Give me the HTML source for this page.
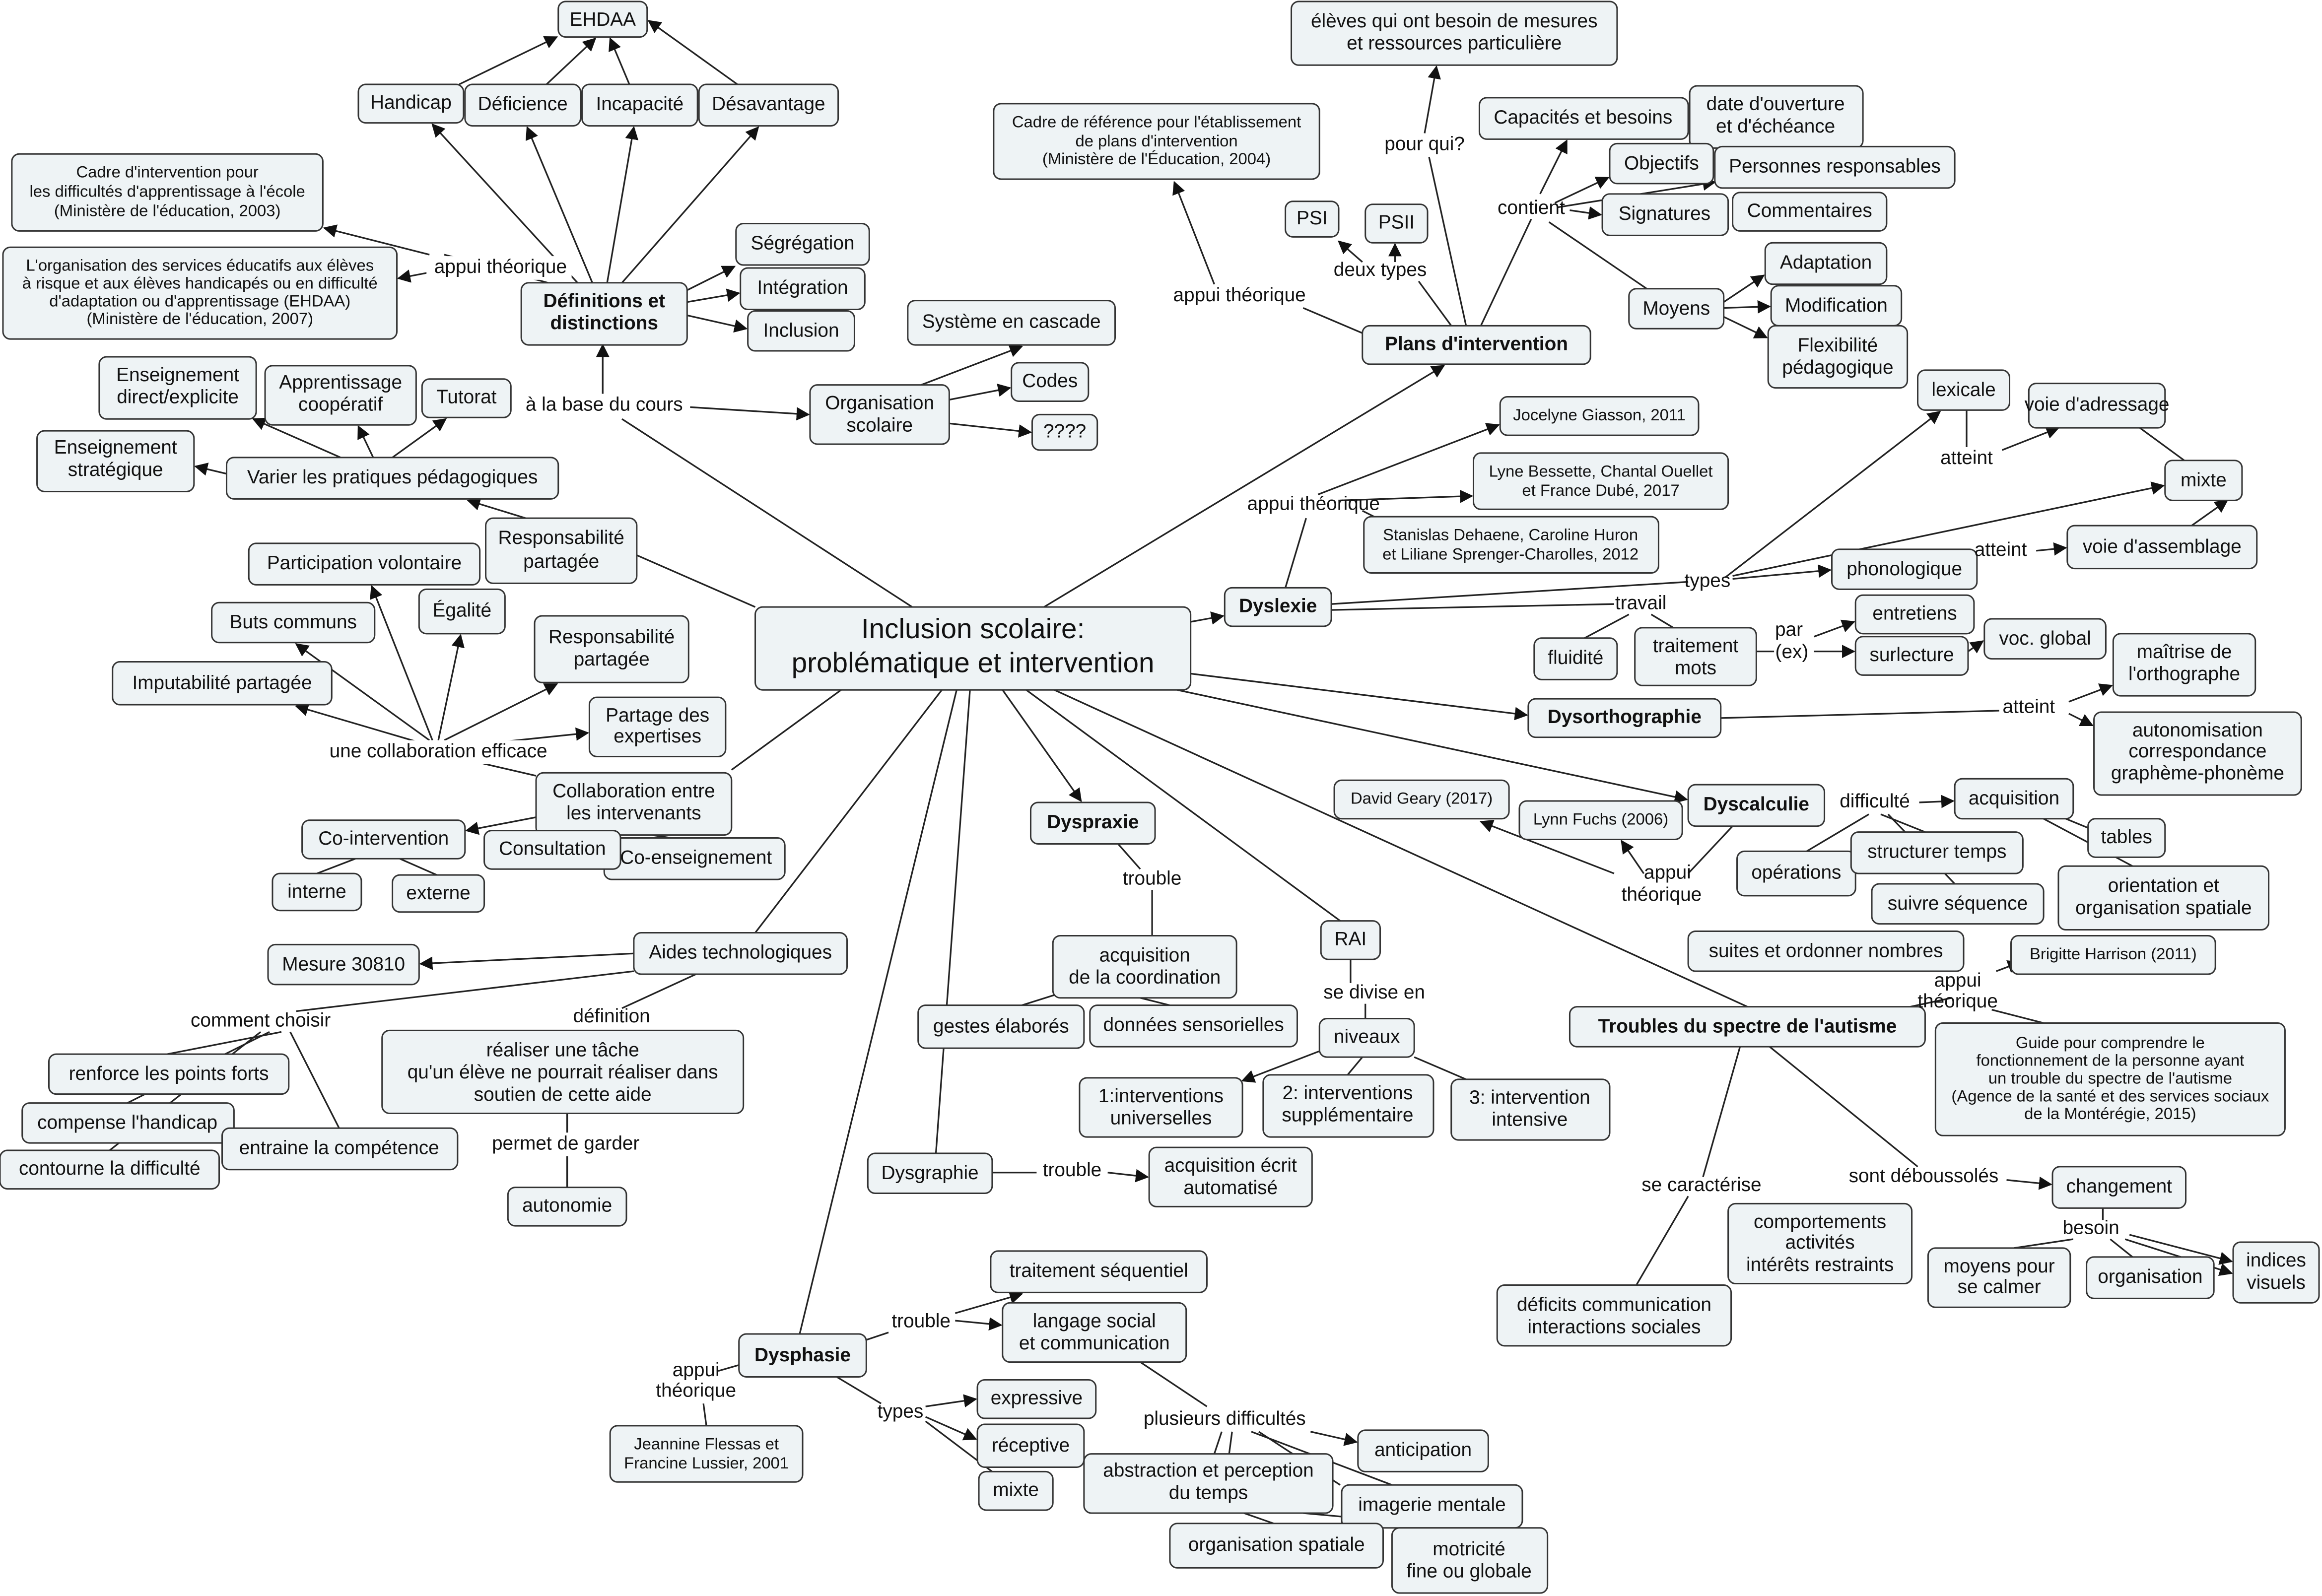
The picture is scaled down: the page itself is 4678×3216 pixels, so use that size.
<!DOCTYPE html>
<html><head><meta charset="utf-8"><style>
html,body{margin:0;padding:0;background:#fff}
svg{display:block}
text{font-family:"Liberation Sans","DejaVu Sans",sans-serif;font-size:13px;fill:#111;text-anchor:middle;dominant-baseline:middle}
.s{font-size:11px}
.b{font-weight:bold}
rect{fill:#eef3f5;stroke:#333;stroke-width:1}
line,polyline{stroke:#222;stroke-width:1.1;fill:none}
.a{marker-end:url(#ar)}
</style></head><body>
<svg width="4678" height="3216" viewBox="0 0 1568 1078" preserveAspectRatio="none" xmlns="http://www.w3.org/2000/svg">
<defs><marker id="ar" viewBox="0 0 10 10" refX="9" refY="5" markerWidth="9" markerHeight="9" markerUnits="userSpaceOnUse" orient="auto"><path d="M0,0L10,5L0,10z" fill="#111"/></marker></defs>

<!-- edges -->
<g>
<line class="a" x1="310" y1="57" x2="376" y2="25"/>
<line class="a" x1="369" y1="57" x2="402" y2="26"/>
<line class="a" x1="425" y1="57" x2="412" y2="26"/>
<line class="a" x1="498" y1="57" x2="438" y2="14"/>
<line class="a" x1="390" y1="191" x2="292" y2="84"/>
<line class="a" x1="400" y1="191" x2="356" y2="86"/>
<line class="a" x1="410" y1="191" x2="428" y2="86"/>
<line class="a" x1="420" y1="191" x2="512" y2="86"/>
<line x1="370" y1="191" x2="300" y2="172"/>
<line class="a" x1="290" y1="172" x2="219" y2="154"/>
<line class="a" x1="290" y1="184" x2="269" y2="188"/>
<line class="a" x1="464" y1="196" x2="496" y2="180"/>
<line class="a" x1="464" y1="204" x2="499" y2="198"/>
<line class="a" x1="464" y1="213" x2="504" y2="222"/>
<line class="a" x1="407" y1="266" x2="407" y2="233"/>
<line class="a" x1="466" y1="275" x2="546" y2="280"/>
<line x1="616" y1="410" x2="420" y2="283"/>
<line class="a" x1="622" y1="260" x2="690" y2="234"/>
<line class="a" x1="641" y1="270" x2="682" y2="262"/>
<line class="a" x1="641" y1="286" x2="696" y2="292"/>
<line class="a" x1="230" y1="309" x2="171" y2="283"/>
<line class="a" x1="252" y1="309" x2="242" y2="288"/>
<line class="a" x1="265" y1="309" x2="301" y2="283"/>
<line class="a" x1="153" y1="320" x2="132" y2="315"/>
<line class="a" x1="355" y1="350" x2="316" y2="338"/>
<line x1="510" y1="410" x2="430" y2="375"/>
<line class="a" x1="292" y1="500" x2="251" y2="396"/>
<line class="a" x1="296" y1="500" x2="311" y2="429"/>
<line class="a" x1="290" y1="500" x2="200" y2="435"/>
<line class="a" x1="300" y1="500" x2="376" y2="462"/>
<line class="a" x1="285" y1="502" x2="200" y2="477"/>
<line class="a" x1="330" y1="502" x2="397" y2="495"/>
<line x1="362" y1="524" x2="310" y2="512"/>
<line x1="568" y1="466" x2="494" y2="520"/>
<line class="a" x1="362" y1="552" x2="315" y2="561"/>
<line x1="385" y1="564" x2="372" y2="562"/>
<line x1="440" y1="564" x2="460" y2="567"/>
<line x1="240" y1="580" x2="214" y2="590"/>
<line x1="270" y1="580" x2="295" y2="591"/>
<line x1="636" y1="466" x2="510" y2="630"/>
<line class="a" x1="428" y1="644" x2="284" y2="651"/>
<line x1="428" y1="656" x2="200" y2="683"/>
<line x1="470" y1="658" x2="420" y2="681"/>
<line x1="190" y1="697" x2="113" y2="712"/>
<line x1="182" y1="697" x2="86" y2="745"/>
<line x1="176" y1="697" x2="74" y2="777"/>
<line x1="196" y1="697" x2="229" y2="762"/>
<line x1="383" y1="752" x2="383" y2="765"/>
<line x1="383" y1="781" x2="383" y2="802"/>
<line class="a" x1="705" y1="410" x2="975" y2="247"/>
<line x1="920" y1="225" x2="880" y2="208"/>
<line class="a" x1="820" y1="192" x2="793" y2="123"/>
<line x1="990" y1="220" x2="965" y2="106"/>
<line class="a" x1="962" y1="90" x2="970" y2="45"/>
<line x1="980" y1="220" x2="958" y2="190"/>
<line class="a" x1="920" y1="177" x2="904" y2="163"/>
<line class="a" x1="942" y1="177" x2="942" y2="165"/>
<line x1="1000" y1="220" x2="1034" y2="148"/>
<line class="a" x1="1040" y1="131" x2="1058" y2="95"/>
<line class="a" x1="1050" y1="137" x2="1086" y2="120"/>
<line class="a" x1="1052" y1="140" x2="1158" y2="123"/>
<line class="a" x1="1060" y1="142" x2="1081" y2="145"/>
<line x1="1046" y1="150" x2="1112" y2="195"/>
<line class="a" x1="1164" y1="204" x2="1191" y2="186"/>
<line class="a" x1="1164" y1="208" x2="1195" y2="207"/>
<line class="a" x1="1164" y1="214" x2="1193" y2="228"/>
<line class="a" x1="804" y1="420" x2="826" y2="416"/>
<line x1="868" y1="397" x2="882" y2="350"/>
<line class="a" x1="890" y1="334" x2="1012" y2="287"/>
<line class="a" x1="905" y1="338" x2="994" y2="335"/>
<line x1="920" y1="345" x2="930" y2="350"/>
<line x1="899" y1="408" x2="1140" y2="393"/>
<line class="a" x1="1165" y1="390" x2="1310" y2="278"/>
<line class="a" x1="1170" y1="391" x2="1236" y2="385"/>
<line class="a" x1="1170" y1="389" x2="1461" y2="328"/>
<line x1="1328" y1="277" x2="1328" y2="302"/>
<line class="a" x1="1352" y1="304" x2="1390" y2="289"/>
<line x1="1445" y1="289" x2="1475" y2="311"/>
<line class="a" x1="1480" y1="355" x2="1504" y2="338"/>
<line class="a" x1="1375" y1="372" x2="1395" y2="370"/>
<line x1="899" y1="412" x2="1090" y2="408"/>
<line x1="1100" y1="415" x2="1070" y2="431"/>
<line x1="1115" y1="415" x2="1130" y2="424"/>
<line x1="1186" y1="440" x2="1198" y2="440"/>
<line class="a" x1="1225" y1="430" x2="1252" y2="420"/>
<line class="a" x1="1225" y1="440" x2="1252" y2="440"/>
<line class="a" x1="1329" y1="440" x2="1339" y2="433"/>
<line class="a" x1="804" y1="455" x2="1031" y2="483"/>
<line x1="1162" y1="485" x2="1350" y2="480"/>
<line class="a" x1="1397" y1="474" x2="1426" y2="463"/>
<line class="a" x1="1397" y1="482" x2="1413" y2="490"/>
<line class="a" x1="795" y1="466" x2="1139" y2="540"/>
<line class="a" x1="1296" y1="542" x2="1319" y2="541"/>
<line x1="1262" y1="550" x2="1220" y2="575"/>
<line x1="1270" y1="550" x2="1300" y2="562"/>
<line x1="1275" y1="550" x2="1320" y2="597"/>
<line x1="1395" y1="553" x2="1412" y2="560"/>
<line x1="1380" y1="553" x2="1440" y2="585"/>
<line x1="1170" y1="558" x2="1140" y2="590"/>
<line class="a" x1="1090" y1="590" x2="1000" y2="555"/>
<line class="a" x1="1110" y1="590" x2="1095" y2="568"/>
<line class="a" x1="677" y1="466" x2="730" y2="541"/>
<line x1="755" y1="570" x2="770" y2="587"/>
<line x1="778" y1="601" x2="778" y2="632"/>
<line x1="725" y1="668" x2="690" y2="679"/>
<line x1="770" y1="674" x2="790" y2="679"/>
<line x1="693" y1="466" x2="905" y2="622"/>
<line x1="912" y1="648" x2="912" y2="664"/>
<line x1="922" y1="678" x2="922" y2="688"/>
<line class="a" x1="891" y1="710" x2="839" y2="730"/>
<line x1="920" y1="714" x2="910" y2="726"/>
<line x1="955" y1="714" x2="990" y2="729"/>
<line x1="712" y1="466" x2="1180" y2="680"/>
<line x1="1290" y1="680" x2="1318" y2="674"/>
<line class="a" x1="1348" y1="656" x2="1364" y2="650"/>
<line x1="1345" y1="682" x2="1380" y2="691"/>
<line x1="1175" y1="707" x2="1150" y2="795"/>
<line x1="1140" y1="808" x2="1105" y2="868"/>
<line x1="1195" y1="707" x2="1295" y2="788"/>
<line class="a" x1="1355" y1="797" x2="1385" y2="800"/>
<line x1="1420" y1="816" x2="1420" y2="824"/>
<line x1="1400" y1="837" x2="1360" y2="843"/>
<line x1="1425" y1="837" x2="1440" y2="849"/>
<line class="a" x1="1438" y1="834" x2="1507" y2="852"/>
<line class="a" x1="1435" y1="837" x2="1507" y2="860"/>
<line x1="655" y1="466" x2="632" y2="779"/>
<line x1="670" y1="792" x2="700" y2="792"/>
<line class="a" x1="748" y1="792" x2="775" y2="795"/>
<line x1="646" y1="466" x2="540" y2="901"/>
<line x1="585" y1="905" x2="600" y2="900"/>
<line class="a" x1="645" y1="887" x2="690" y2="874"/>
<line class="a" x1="645" y1="892" x2="676" y2="895"/>
<line x1="565" y1="930" x2="595" y2="948"/>
<line class="a" x1="625" y1="950" x2="659" y2="945"/>
<line class="a" x1="625" y1="957" x2="659" y2="972"/>
<line x1="625" y1="960" x2="670" y2="994"/>
<line x1="499" y1="922" x2="485" y2="926"/>
<line x1="475" y1="948" x2="477" y2="963"/>
<line x1="770" y1="920" x2="815" y2="950"/>
<line class="a" x1="885" y1="967" x2="916" y2="974"/>
<line x1="825" y1="967" x2="820" y2="982"/>
<line x1="832" y1="967" x2="830" y2="982"/>
<line x1="845" y1="967" x2="940" y2="1003"/>
<line x1="850" y1="967" x2="905" y2="1003"/>
<line x1="840" y1="1022" x2="860" y2="1029"/>
<line x1="880" y1="1022" x2="990" y2="1032"/>
</g>

<!-- nodes -->
<g>
<rect x="377" y="1" width="60" height="24" rx="5"/><text x="407" y="14">EHDAA</text>
<rect x="242" y="57" width="71" height="26" rx="5"/><text x="277.5" y="70">Handicap</text>
<rect x="314" y="57" width="78" height="28" rx="5"/><text x="353" y="71">Déficience</text>
<rect x="393" y="57" width="78" height="28" rx="5"/><text x="432" y="71">Incapacité</text>
<rect x="472" y="57" width="94" height="28" rx="5"/><text x="519" y="71">Désavantage</text>
<rect x="8" y="104" width="210" height="52" rx="5"/><text class="s" x="113" y="117">Cadre d'intervention pour</text><text class="s" x="113" y="130">les difficultés d'apprentissage à l'école</text><text class="s" x="113" y="143">(Ministère de l'éducation, 2003)</text>
<rect x="2" y="167" width="266" height="62" rx="5"/><text class="s" x="135" y="180">L'organisation des services éducatifs aux élèves</text><text class="s" x="135" y="192">à risque et aux élèves handicapés ou en difficulté</text><text class="s" x="135" y="204">d'adaptation ou d'apprentissage (EHDAA)</text><text class="s" x="135" y="216">(Ministère de l'éducation, 2007)</text>
<rect x="352" y="191" width="112" height="42" rx="5"/><text class="b" x="408" y="204">Définitions et</text><text class="b" x="408" y="219">distinctions</text>
<rect x="497" y="151" width="90" height="28" rx="5"/><text x="542" y="165">Ségrégation</text>
<rect x="500" y="181" width="84" height="28" rx="5"/><text x="542" y="195">Intégration</text>
<rect x="505" y="210" width="72" height="27" rx="5"/><text x="541" y="224">Inclusion</text>
<rect x="67" y="241" width="106" height="42" rx="5"/><text x="120" y="254">Enseignement</text><text x="120" y="269">direct/explicite</text>
<rect x="179" y="247" width="102" height="40" rx="5"/><text x="230" y="259">Apprentissage</text><text x="230" y="274">coopératif</text>
<rect x="285" y="256" width="60" height="26" rx="5"/><text x="315" y="269">Tutorat</text>
<rect x="25" y="291" width="106" height="41" rx="5"/><text x="78" y="303">Enseignement</text><text x="78" y="318">stratégique</text>
<rect x="153" y="309" width="224" height="28" rx="5"/><text x="265" y="323">Varier les pratiques pédagogiques</text>
<rect x="328" y="350" width="102" height="44" rx="5"/><text x="379" y="364">Responsabilité</text><text x="379" y="380">partagée</text>
<rect x="168" y="367" width="156" height="28" rx="5"/><text x="246" y="381">Participation volontaire</text>
<rect x="283" y="398" width="58" height="30" rx="5"/><text x="312" y="413">Égalité</text>
<rect x="143" y="407" width="110" height="27" rx="5"/><text x="198" y="421">Buts communs</text>
<rect x="361" y="416" width="104" height="45" rx="5"/><text x="413" y="431">Responsabilité</text><text x="413" y="446">partagée</text>
<rect x="76" y="447" width="148" height="29" rx="5"/><text x="150" y="462">Imputabilité partagée</text>
<rect x="398" y="471" width="92" height="40" rx="5"/><text x="444" y="484">Partage des</text><text x="444" y="498">expertises</text>
<rect x="362" y="522" width="132" height="42" rx="5"/><text x="428" y="535">Collaboration entre</text><text x="428" y="550">les intervenants</text>
<rect x="408" y="566" width="122" height="28" rx="5"/><text x="470" y="580">Co-enseignement</text>
<rect x="204" y="554" width="110" height="26" rx="5"/><text x="259" y="567">Co-intervention</text>
<rect x="327" y="561" width="92" height="26" rx="5"/><text x="373" y="574">Consultation</text>
<rect x="184" y="590" width="60" height="25" rx="5"/><text x="214" y="603">interne</text>
<rect x="265" y="591" width="62" height="25" rx="5"/><text x="296" y="604">externe</text>
<rect x="613" y="203" width="140" height="30" rx="5"/><text x="683" y="218">Système en cascade</text>
<rect x="683" y="245" width="52" height="26" rx="5"/><text x="709" y="258">Codes</text>
<rect x="547" y="260" width="94" height="40" rx="5"/><text x="594" y="273">Organisation</text><text x="594" y="288">scolaire</text>
<rect x="697" y="280" width="44" height="24" rx="5"/><text x="719" y="292">????</text>
<rect x="510" y="410" width="294" height="56" rx="5"/><text x="657" y="426" style="font-size:19px">Inclusion scolaire:</text><text x="657" y="449" style="font-size:19px">problématique et intervention</text>
<rect x="428" y="630" width="144" height="28" rx="5"/><text x="500" y="644">Aides technologiques</text>
<rect x="181" y="638" width="102" height="27" rx="5"/><text x="232" y="652">Mesure 30810</text>
<rect x="258" y="696" width="244" height="56" rx="5"/><text x="380" y="710">réaliser une tâche</text><text x="380" y="725">qu'un élève ne pourrait réaliser dans</text><text x="380" y="740">soutien de cette aide</text>
<rect x="33" y="712" width="162" height="27" rx="5"/><text x="114" y="726">renforce les points forts</text>
<rect x="15" y="745" width="143" height="27" rx="5"/><text x="86" y="759">compense l'handicap</text>
<rect x="150" y="762" width="159" height="28" rx="5"/><text x="229" y="776">entraine la compétence</text>
<rect x="0" y="777" width="148" height="26" rx="5"/><text x="74" y="790">contourne la difficulté</text>
<rect x="343" y="802" width="80" height="26" rx="5"/><text x="383" y="815">autonomie</text>
<rect x="872" y="1" width="220" height="43" rx="5"/><text x="982" y="15">élèves qui ont besoin de mesures</text><text x="982" y="30">et ressources particulière</text>
<rect x="671" y="70" width="220" height="51" rx="5"/><text class="s" x="781" y="83">Cadre de référence pour l'établissement</text><text class="s" x="781" y="96">de plans d'intervention</text><text class="s" x="781" y="108">(Ministère de l'Éducation, 2004)</text>
<rect x="999" y="66" width="141" height="28" rx="5"/><text x="1069" y="80">Capacités et besoins</text>
<rect x="1141" y="58" width="117" height="42" rx="5"/><text x="1199" y="71">date d'ouverture</text><text x="1199" y="86">et d'échéance</text>
<rect x="1087" y="97" width="70" height="27" rx="5"/><text x="1122" y="111">Objectifs</text>
<rect x="1158" y="99" width="162" height="28" rx="5"/><text x="1239" y="113">Personnes responsables</text>
<rect x="1082" y="131" width="85" height="28" rx="5"/><text x="1124" y="145">Signatures</text>
<rect x="1170" y="130" width="104" height="26" rx="5"/><text x="1222" y="143">Commentaires</text>
<rect x="868" y="136" width="36" height="24" rx="5"/><text x="886" y="148">PSI</text>
<rect x="922" y="138" width="42" height="26" rx="5"/><text x="943" y="151">PSII</text>
<rect x="920" y="220" width="154" height="26" rx="5"/><text class="b" x="997" y="233">Plans d'intervention</text>
<rect x="1192" y="164" width="82" height="28" rx="5"/><text x="1233" y="178">Adaptation</text>
<rect x="1100" y="195" width="64" height="27" rx="5"/><text x="1132" y="209">Moyens</text>
<rect x="1196" y="193" width="88" height="27" rx="5"/><text x="1240" y="207">Modification</text>
<rect x="1194" y="220" width="94" height="42" rx="5"/><text x="1241" y="234">Flexibilité</text><text x="1241" y="249">pédagogique</text>
<rect x="1013" y="268" width="134" height="26" rx="5"/><text class="s" x="1080" y="281">Jocelyne Giasson, 2011</text>
<rect x="1295" y="250" width="62" height="27" rx="5"/><text x="1326" y="264">lexicale</text>
<rect x="1370" y="259" width="92" height="30" rx="5"/><text x="1416" y="274">voie d'adressage</text>
<rect x="995" y="306" width="172" height="38" rx="5"/><text class="s" x="1081" y="319">Lyne Bessette, Chantal Ouellet</text><text class="s" x="1081" y="332">et France Dubé, 2017</text>
<rect x="1462" y="311" width="52" height="27" rx="5"/><text x="1488" y="325">mixte</text>
<rect x="921" y="349" width="199" height="38" rx="5"/><text class="s" x="1020" y="362">Stanislas Dehaene, Caroline Huron</text><text class="s" x="1020" y="375">et Liliane Sprenger-Charolles, 2012</text>
<rect x="1396" y="355" width="128" height="29" rx="5"/><text x="1460" y="370">voie d'assemblage</text>
<rect x="1237" y="371" width="98" height="27" rx="5"/><text x="1286" y="385">phonologique</text>
<rect x="827" y="397" width="72" height="26" rx="5"/><text class="b" x="863" y="410">Dyslexie</text>
<rect x="1253" y="402" width="80" height="26" rx="5"/><text x="1293" y="415">entretiens</text>
<rect x="1340" y="418" width="82" height="27" rx="5"/><text x="1381" y="432">voc. global</text>
<rect x="1427" y="428" width="96" height="42" rx="5"/><text x="1475" y="441">maîtrise de</text><text x="1475" y="456">l'orthographe</text>
<rect x="1036" y="431" width="56" height="28" rx="5"/><text x="1064" y="445">fluidité</text>
<rect x="1104" y="424" width="82" height="39" rx="5"/><text x="1145" y="437">traitement</text><text x="1145" y="452">mots</text>
<rect x="1253" y="430" width="76" height="26" rx="5"/><text x="1291" y="443">surlecture</text>
<rect x="1032" y="472" width="130" height="26" rx="5"/><text class="b" x="1097" y="485">Dysorthographie</text>
<rect x="1414" y="481" width="140" height="56" rx="5"/><text x="1484" y="494">autonomisation</text><text x="1484" y="508">correspondance</text><text x="1484" y="523">graphème-phonème</text>
<rect x="901" y="527" width="118" height="26" rx="5"/><text class="s" x="960" y="540">David Geary (2017)</text>
<rect x="1026" y="541" width="110" height="26" rx="5"/><text class="s" x="1081" y="554">Lynn Fuchs (2006)</text>
<rect x="1140" y="530" width="92" height="28" rx="5"/><text class="b" x="1186" y="544">Dyscalculie</text>
<rect x="1320" y="526" width="80" height="27" rx="5"/><text x="1360" y="540">acquisition</text>
<rect x="696" y="542" width="84" height="28" rx="5"/><text class="b" x="738" y="556">Dyspraxie</text>
<rect x="1410" y="553" width="52" height="26" rx="5"/><text x="1436" y="566">tables</text>
<rect x="1173" y="575" width="80" height="30" rx="5"/><text x="1213" y="590">opérations</text>
<rect x="1250" y="562" width="116" height="28" rx="5"/><text x="1308" y="576">structurer temps</text>
<rect x="1390" y="585" width="142" height="43" rx="5"/><text x="1461" y="599">orientation et</text><text x="1461" y="614">organisation spatiale</text>
<rect x="1264" y="597" width="116" height="27" rx="5"/><text x="1322" y="611">suivre séquence</text>
<rect x="892" y="622" width="40" height="26" rx="5"/><text x="912" y="635">RAI</text>
<rect x="711" y="632" width="124" height="42" rx="5"/><text x="773" y="646">acquisition</text><text x="773" y="661">de la coordination</text>
<rect x="1140" y="629" width="186" height="27" rx="5"/><text x="1233" y="643">suites et ordonner nombres</text>
<rect x="1358" y="632" width="138" height="26" rx="5"/><text class="s" x="1427" y="645">Brigitte Harrison (2011)</text>
<rect x="620" y="679" width="112" height="29" rx="5"/><text x="676" y="694">gestes élaborés</text>
<rect x="736" y="679" width="140" height="28" rx="5"/><text x="806" y="693">données sensorielles</text>
<rect x="891" y="688" width="64" height="26" rx="5"/><text x="923" y="701">niveaux</text>
<rect x="1060" y="680" width="240" height="27" rx="5"/><text class="b" x="1180" y="694">Troubles du spectre de l'autisme</text>
<rect x="1307" y="691" width="236" height="76" rx="5"/><text class="s" x="1425" y="705">Guide pour comprendre le</text><text class="s" x="1425" y="717">fonctionnement de la personne ayant</text><text class="s" x="1425" y="729">un trouble du spectre de l'autisme</text><text class="s" x="1425" y="741">(Agence de la santé et des services sociaux</text><text class="s" x="1425" y="753">de la Montérégie, 2015)</text>
<rect x="729" y="728" width="110" height="40" rx="5"/><text x="784" y="741">1:interventions</text><text x="784" y="756">universelles</text>
<rect x="853" y="726" width="115" height="42" rx="5"/><text x="910" y="739">2: interventions</text><text x="910" y="754">supplémentaire</text>
<rect x="980" y="729" width="107" height="41" rx="5"/><text x="1033" y="742">3: intervention</text><text x="1033" y="757">intensive</text>
<rect x="586" y="779" width="84" height="27" rx="5"/><text x="628" y="793">Dysgraphie</text>
<rect x="776" y="775" width="110" height="40" rx="5"/><text x="831" y="788">acquisition écrit</text><text x="831" y="803">automatisé</text>
<rect x="1386" y="788" width="90" height="28" rx="5"/><text x="1431" y="802">changement</text>
<rect x="1167" y="813" width="124" height="54" rx="5"/><text x="1229" y="826">comportements</text><text x="1229" y="840">activités</text><text x="1229" y="855">intérêts restraints</text>
<rect x="1302" y="843" width="96" height="40" rx="5"/><text x="1350" y="856">moyens pour</text><text x="1350" y="870">se calmer</text>
<rect x="1409" y="849" width="86" height="28" rx="5"/><text x="1452" y="863">organisation</text>
<rect x="1508" y="839" width="58" height="41" rx="5"/><text x="1537" y="852">indices</text><text x="1537" y="867">visuels</text>
<rect x="669" y="845" width="146" height="28" rx="5"/><text x="742" y="859">traitement séquentiel</text>
<rect x="1011" y="868" width="158" height="41" rx="5"/><text x="1090" y="882">déficits communication</text><text x="1090" y="897">interactions sociales</text>
<rect x="677" y="880" width="124" height="40" rx="5"/><text x="739" y="893">langage social</text><text x="739" y="908">et communication</text>
<rect x="499" y="901" width="86" height="29" rx="5"/><text class="b" x="542" y="916">Dysphasie</text>
<rect x="660" y="932" width="80" height="26" rx="5"/><text x="700" y="945">expressive</text>
<rect x="412" y="963" width="130" height="38" rx="5"/><text class="s" x="477" y="976">Jeannine Flessas et</text><text class="s" x="477" y="989">Francine Lussier, 2001</text>
<rect x="660" y="962" width="72" height="29" rx="5"/><text x="696" y="977">réceptive</text>
<rect x="917" y="966" width="88" height="28" rx="5"/><text x="961" y="980">anticipation</text>
<rect x="732" y="982" width="168" height="40" rx="5"/><text x="816" y="994">abstraction et perception</text><text x="816" y="1009">du temps</text>
<rect x="661" y="994" width="50" height="26" rx="5"/><text x="686" y="1007">mixte</text>
<rect x="906" y="1003" width="122" height="29" rx="5"/><text x="967" y="1017">imagerie mentale</text>
<rect x="790" y="1029" width="144" height="30" rx="5"/><text x="862" y="1044">organisation spatiale</text>
<rect x="940" y="1032" width="105" height="44" rx="5"/><text x="992" y="1047">motricité</text><text x="992" y="1062">fine ou globale</text>
</g>

<!-- labels -->
<g>
<rect x="288" y="173" width="98" height="16" style="fill:#fff;stroke:none"/><text x="338" y="181">appui théorique</text>
<rect x="350" y="266" width="116" height="16" style="fill:#fff;stroke:none"/><text x="408" y="274">à la base du cours</text>
<rect x="216" y="500" width="160" height="16" style="fill:#fff;stroke:none"/><text x="296" y="508">une collaboration efficace</text>
<text x="176" y="690">comment choisir</text>
<text x="413" y="687">définition</text>
<text x="382" y="773">permet de garder</text>
<text x="962" y="98">pour qui?</text>
<text x="837" y="200">appui théorique</text>
<text x="932" y="183">deux types</text>
<text x="1034" y="141">contient</text>
<text x="887" y="341">appui théorique</text>
<text x="1328" y="310">atteint</text>
<text x="1351" y="372">atteint</text>
<text x="1153" y="393">types</text>
<text x="1108" y="408">travail</text>
<text x="1208" y="426">par</text><text x="1210" y="441">(ex)</text>
<text x="1370" y="478">atteint</text>
<text x="1266" y="542">difficulté</text>
<text x="1126" y="590">appui</text><text x="1122" y="605">théorique</text>
<text x="778" y="594">trouble</text>
<text x="928" y="671">se divise en</text>
<text x="1322" y="663">appui</text><text x="1322" y="677">théorique</text>
<text x="724" y="791">trouble</text>
<text x="1299" y="795">sont déboussolés</text>
<text x="1412" y="830">besoin</text>
<text x="1149" y="801">se caractérise</text>
<text x="622" y="893">trouble</text>
<text x="608" y="954">types</text>
<text x="470" y="926">appui</text><text x="470" y="940">théorique</text>
<text x="827" y="959">plusieurs difficultés</text>
</g>
</svg>
</body></html>
